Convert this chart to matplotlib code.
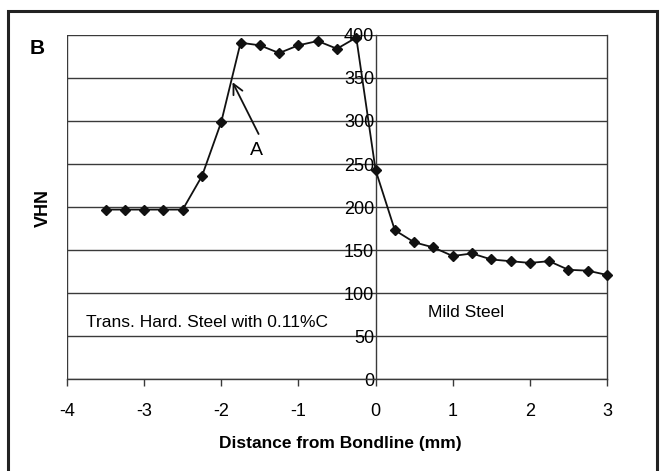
"""Hardness profile across the bondline (VHN vs distance)."""
import matplotlib
matplotlib.use('Agg')
import matplotlib.pyplot as plt
from matplotlib.patches import Rectangle

plt.rcParams['font.family'] = ['Liberation Sans Narrow', 'Liberation Sans', 'DejaVu Sans']

# distance from bondline (mm) and hardness (VHN)
distance = [-3.5, -3.25, -3.0, -2.75, -2.5, -2.25, -2.0, -1.75, -1.5, -1.25, -1.0,
            -0.75, -0.5, -0.25, 0.0, 0.25, 0.5, 0.75, 1.0, 1.25, 1.5, 1.75, 2.0,
            2.25, 2.5, 2.75, 3.0]
vhn = [197, 197, 197, 197, 197, 236, 299, 391, 388, 379, 388,
       393, 384, 397, 243, 173, 159, 153, 143, 146, 139, 137, 135,
       137, 127, 126, 121]

x_ticks = [-4, -3, -2, -1, 0, 1, 2, 3]
y_ticks = [0, 50, 100, 150, 200, 250, 300, 350, 400]

fig = plt.figure(figsize=(6.62, 4.71), dpi=100)
ax = fig.add_axes([0.1012, 0.1953, 0.8157, 0.7304])

ax.set_xlim(-4, 3)
ax.set_ylim(0, 400)

# horizontal gridlines
for y in y_ticks:
    ax.axhline(y, color='#3a3a3a', lw=1.0, zorder=1)

# y axis sits at x = 0, the left frame stays at x = -4
ax.spines['left'].set_position(('data', 0))
ax.spines['left'].set_color('#3a3a3a')
ax.axvline(-4, color='#3a3a3a', lw=1.0)
ax.spines['right'].set_color('#3a3a3a')
ax.spines['top'].set_visible(False)
ax.spines['bottom'].set_color('#3a3a3a')
for s in ax.spines.values():
    s.set_linewidth(1.0)

ax.set_xticks(x_ticks)
ax.set_xticklabels([str(v) for v in x_ticks])
ax.set_yticks(y_ticks)
ax.set_yticklabels([str(v) for v in y_ticks])
ax.tick_params(axis='x', direction='out', length=5, width=1, pad=12,
               labelsize=13, color='#3a3a3a')
ax.tick_params(axis='y', direction='out', length=0, pad=1, labelsize=13)

ax.plot(distance, vhn, color='#111111', lw=1.3, marker='D', markersize=5.5,
        markerfacecolor='#111111', markeredgecolor='#111111', zorder=3,
        clip_on=False)

ax.annotate('', xy=(-1.87, 348), xytext=(-1.5, 282),
            arrowprops=dict(arrowstyle='->', color='#111111', lw=1.3,
                            mutation_scale=18))
ax.text(-1.55, 266, 'A', fontsize=14, ha='center', va='center',
        family=['Liberation Sans', 'DejaVu Sans'])

ax.text(-3.75, 66, 'Trans. Hard. Steel with 0.11%C', fontsize=12.5,
        ha='left', va='center')
ax.text(1.17, 77, 'Mild Steel', fontsize=12.5, ha='center', va='center')

fig.text(0.514, 0.059, 'Distance from Bondline (mm)', fontsize=12.5,
         fontweight='bold', ha='center', va='center')
fig.text(0.066, 0.558, 'VHN', fontsize=13, fontweight='bold',
         rotation=90, ha='center', va='center')
fig.text(0.056, 0.898, 'B', fontsize=15, fontweight='bold',
         ha='center', va='center', family=['Liberation Sans', 'DejaVu Sans'])

# outer frame
fig.patches.append(Rectangle((8 / 662, -0.02), 649 / 662, 1 - 11 / 471 + 0.02,
                             transform=fig.transFigure, fill=False,
                             edgecolor='#222222', lw=2.2, clip_on=False))

fig.savefig('out.png', dpi=100)
